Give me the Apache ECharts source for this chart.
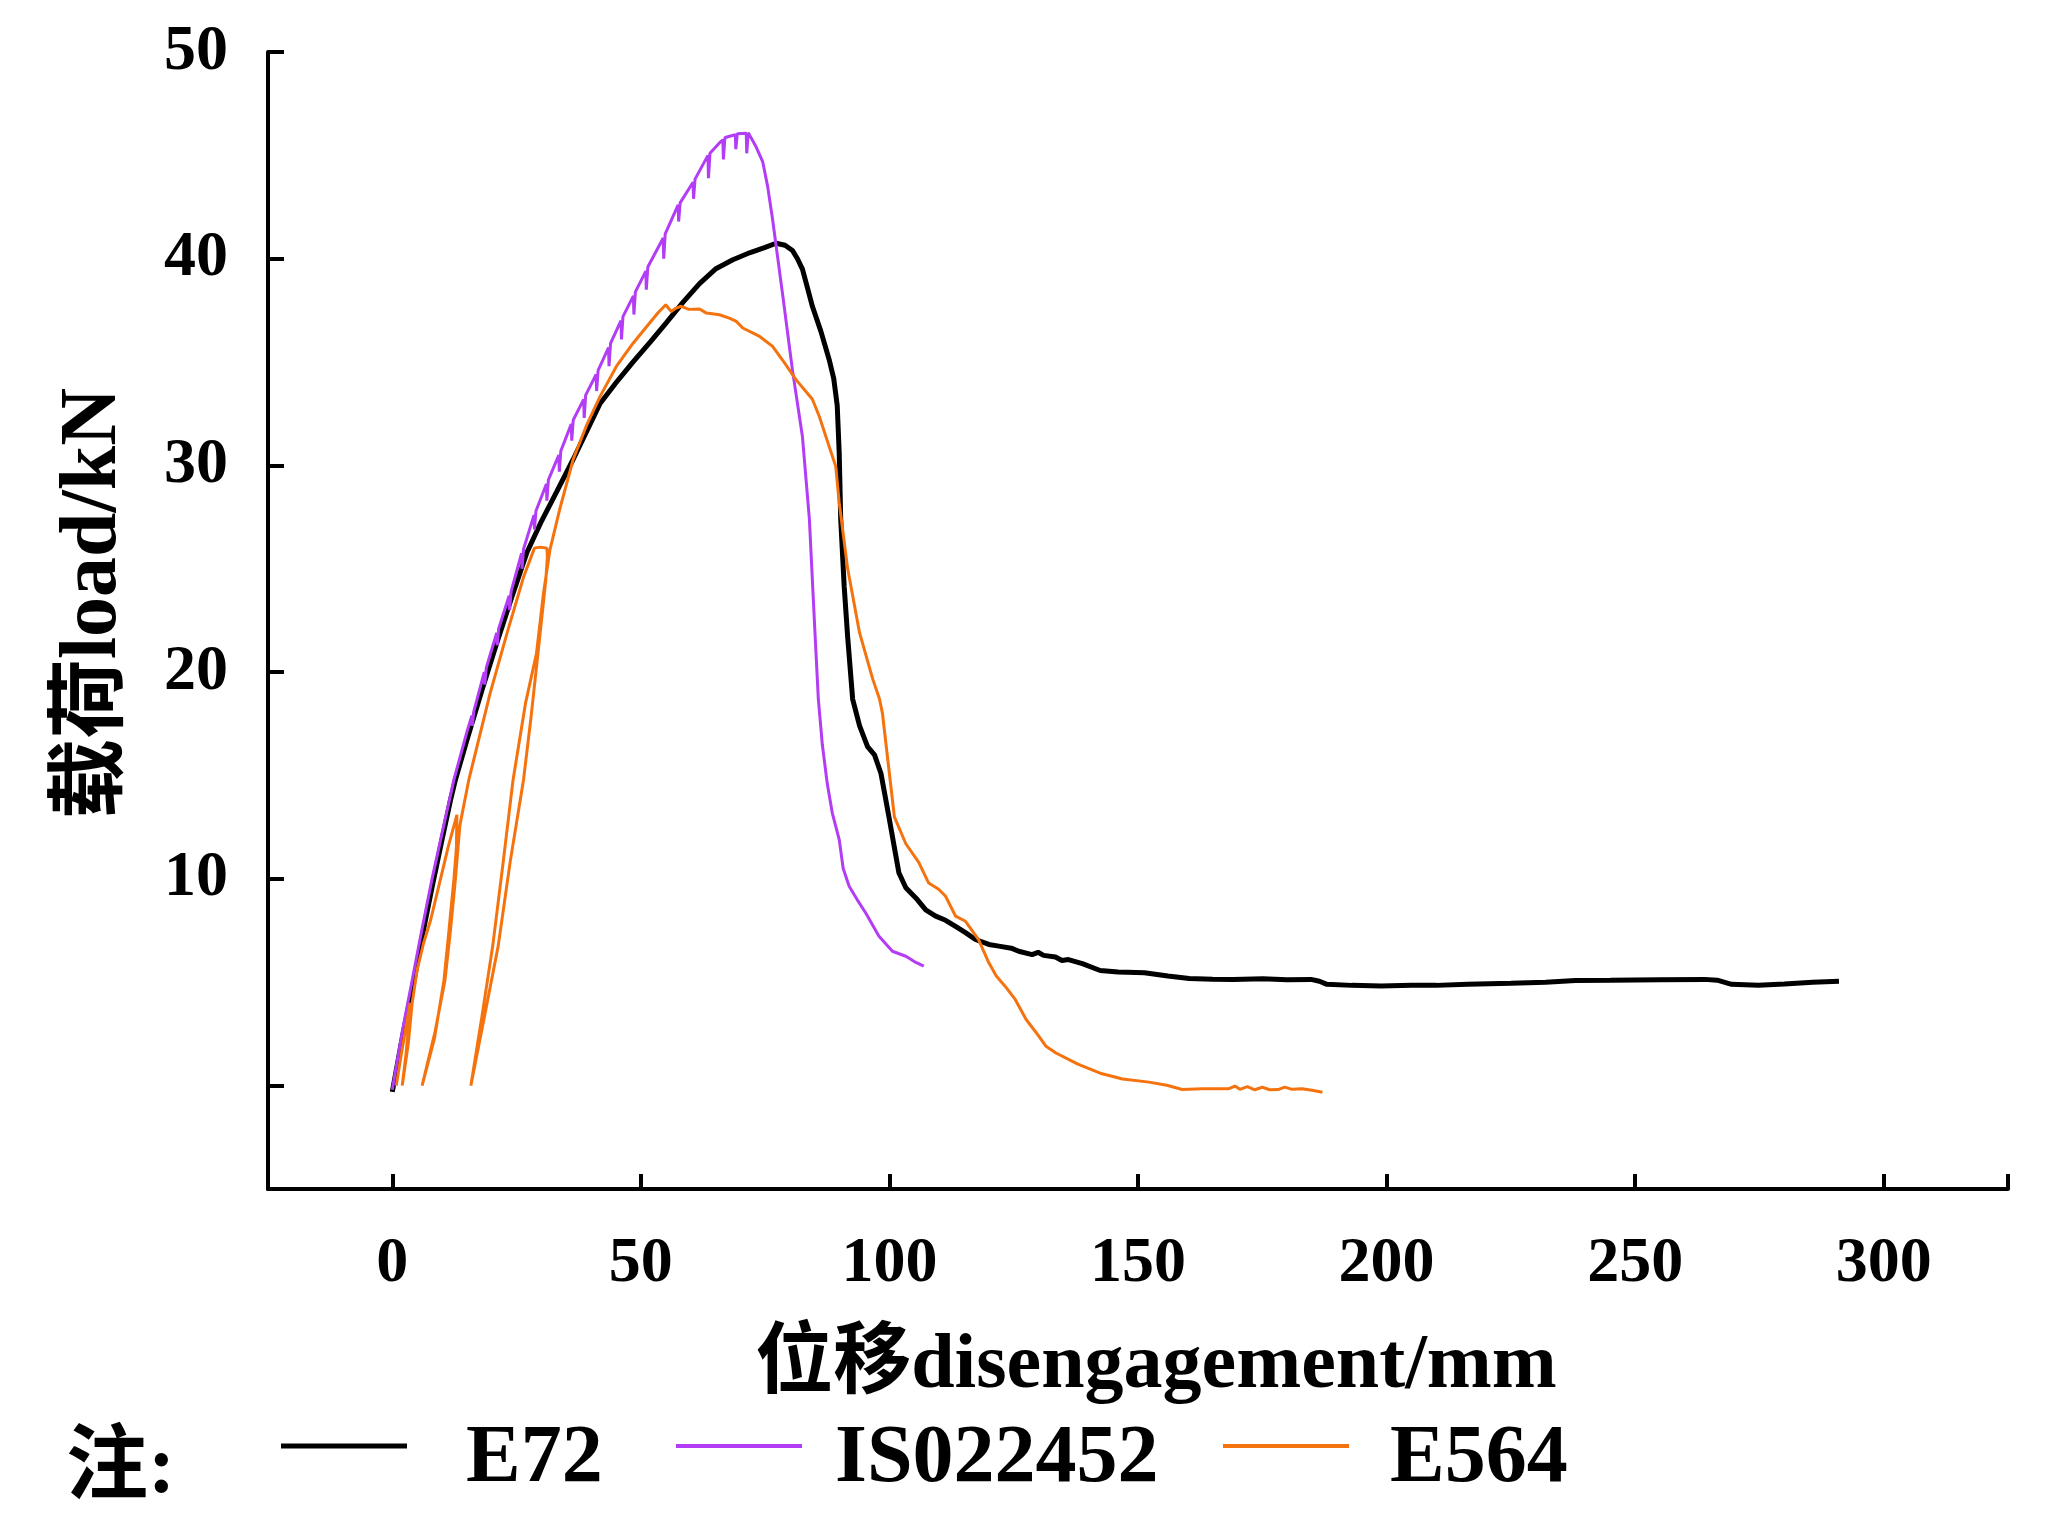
<!DOCTYPE html>
<html>
<head>
<meta charset="utf-8">
<script src="https://cdn.jsdelivr.net/npm/echarts@6/dist/echarts.min.js"></script>
<style>
html,body{margin:0;padding:0;background:#fff;}
#chart{width:2047px;height:1521px;}
</style>
</head>
<body>
<div id="chart"></div>
<script>
// ---- data (displacement mm, load kN) ----
const seriesNames = ['E72', 'IS022452', 'E564'];
const xTickValues = [0, 50, 100, 150, 200, 250, 300, 325];
const xLabelValues = [0, 50, 100, 150, 200, 250, 300];
const yTickValues = [0, 10, 20, 30, 40, 50];
const yLabelValues = [10, 20, 30, 40, 50];

const e72 = [
[0,-0.3],[1,1.0],[2,2.3],[3,3.5],[4.3,5.0],[6,7.2],[8,9.6],[10,11.9],[11.7,13.8],[12.7,14.8],[15,16.7],[18,19.1],[21,21.4],[24,23.6],[27.1,25.8],[30,27.3],[33,28.7],[36.4,30.3],[39,31.6],[41.8,33.0],[45,34.0],[48.4,35.0],[52,36.0],[55.1,36.9],[58.5,37.9],[61.8,38.8],[65,39.5],[68.5,39.95],[72,40.3],[75,40.55],[77.2,40.75],[79,40.65],[80.5,40.4],[81.5,40.0],[82.5,39.5],[83.5,38.6],[84.5,37.7],[86.2,36.5],[87.9,35.1],[88.8,34.2],[89.5,32.9],[89.9,30.6],[90.2,27.4],[90.9,24.15],[91.6,21.7],[92.6,18.7],[94.0,17.4],[95.6,16.4],[97.0,16.0],[98.3,15.1],[99.9,13.0],[101.9,10.3],[103.3,9.57],[105.6,9.0],[107.3,8.5],[109.3,8.2],[111.3,8.0],[113.3,7.7],[115.3,7.4],[117.3,7.07],[120,6.83],[122,6.75],[124.5,6.65],[126,6.5],[128.7,6.34],[129.9,6.45],[131,6.3],[133.4,6.22],[134.7,6.05],[136,6.1],[138.8,5.9],[142.4,5.57],[146,5.5],[151.3,5.46],[156,5.3],[160.3,5.18],[165,5.15],[169.2,5.14],[175.1,5.17],[180,5.12],[184.8,5.14],[186.5,5.05],[188.0,4.9],[193,4.85],[198.9,4.82],[205,4.86],[210,4.85],[216.3,4.9],[225,4.95],[232,5.0],[238,5.09],[245,5.1],[255,5.12],[264,5.14],[266.5,5.1],[269.4,4.9],[274.8,4.86],[280,4.92],[285.7,5.0],[291.0,5.05]
];

const iso22452 = [
[0,-0.2],[1,1.2],[2,2.6],[4,5.1],[6,7.6],[8,10.0],[10,12.2],[12.4,14.8],[15,17.1],
[16,17.9],[16.1,17.4],[16.4,18.1],
[18.5,20.0],[18.6,19.4],[18.9,20.2],
[21,21.9],[21.1,21.3],[21.4,22.1],
[23.5,23.7],[23.6,23.0],[23.9,23.9],
[26,25.75],[26.1,25.0],[26.4,25.95],
[28.5,27.6],[28.6,26.9],[28.9,27.8],
[31,29.1],[31.1,28.3],[31.4,29.3],
[33.5,30.5],[33.6,29.7],[33.9,30.7],
[36,32.0],[36.1,31.2],[36.4,32.2],
[38.5,33.2],[38.6,32.3],[38.9,33.4],
[41,34.4],[41.1,33.6],[41.4,34.6],
[43.5,35.7],[43.6,34.8],[43.9,35.9],
[46,37.0],[46.1,36.1],[46.4,37.2],
[48.5,38.2],[48.6,37.3],[48.9,38.4],
[51,39.4],[51.1,38.5],[51.4,39.6],
[54.5,41.0],[54.6,40.0],[54.9,41.2],
[57.5,42.6],[57.6,41.8],[57.9,42.7],
[60.5,43.7],[60.6,42.9],[60.9,43.85],
[63.5,45.0],[63.6,43.9],[63.9,45.1],
[65.8,45.6],[66.5,45.75],[66.6,44.8],[66.9,45.85],
[67.5,45.9],[69,46.0],[69.1,45.3],[69.4,46.05],[69.8,46.07],
[71.2,46.07],[71.3,45.1],[71.6,46.1],[71.8,46.07],
[73.2,45.4],[74.5,44.7],[75.5,43.5],[76.5,41.9],[78.5,38.3],[80.5,34.6],[82.5,31.4],[83.9,27.4],[84.9,22.5],[85.7,18.7],[86.5,16.5],[87.5,14.6],[88.5,13.2],[89.9,11.9],[90.7,10.5],[91.9,9.65],[93.5,9.0],[95.2,8.36],[97.9,7.23],[100.6,6.5],[103.3,6.26],[105,6.0],[106.9,5.78]
];

const e564 = [
[0.8,0],[1.8,1.5],[2.8,2.9],[3.6,4.0],[3.4,3.2],[2.8,1.6],[2.0,0],[2.3,0],[3.2,2.0],[4.0,4.0],[5.0,5.6],[6.3,6.9],[7.7,8.0],[9.5,9.8],[11.3,11.6],[13.0,13.1],[13.2,13.1],[12.9,11.5],[12.4,10.0],[11.4,7.5],[10.4,5.1],[8.5,2.3],[6.0,0],[6.3,0],[8.6,2.6],[10.6,5.1],[11.7,7.5],[12.7,10.0],[13.6,12.6],[15.4,14.8],[19.7,19.0],[23.1,21.9],[26.4,24.6],[28.6,26.0],[29.8,26.05],[31.1,26.0],[31.2,25.6],[30.9,24.5],[29.3,20.9],[27.9,17.8],[26.4,14.8],[23.7,10.8],[21.3,6.75],[18.5,3.3],[15.8,0],[16.1,0],[18.0,3.3],[20.2,6.75],[22.3,10.8],[24.3,14.8],[26.8,18.5],[29.0,20.9],[30.4,23.8],[31.7,25.9],[33.7,27.9],[36.4,30.3],[39,31.9],[41.8,33.34],[45.1,34.8],[48.4,35.9],[51.8,36.9],[53.5,37.4],[55.0,37.77],[56.1,37.45],[57,37.6],[58.1,37.7],[59.7,37.55],[61.8,37.57],[63.2,37.37],[65.8,37.29],[67.8,37.13],[69.2,36.97],[70.5,36.65],[73.9,36.24],[76.5,35.76],[78.5,35.1],[81.2,34.15],[84.5,33.2],[85.9,32.37],[87.9,30.9],[89.2,29.96],[89.9,28.2],[91.6,25.0],[94.0,21.9],[96.6,19.7],[98.0,18.7],[98.6,18.0],[99.8,15.5],[101.0,13.0],[103.3,11.7],[105.9,10.8],[107.9,9.8],[109.9,9.5],[111.3,9.16],[113.3,8.2],[115.3,7.95],[117.9,7.07],[120.0,5.94],[121.5,5.3],[123.3,4.8],[125.3,4.17],[127.5,3.2],[129.9,2.44],[131.5,1.9],[133.5,1.58],[137.9,1.04],[142.4,0.6],[146.9,0.32],[152.2,0.17],[155.8,0.02],[158.9,-0.19],[163,-0.15],[168.3,-0.15],[169.5,-0.02],[170.5,-0.18],[172,-0.05],[173.5,-0.2],[175,-0.08],[176.5,-0.2],[178.2,-0.19],[179.5,-0.07],[181,-0.18],[183,-0.15],[185,-0.22],[187.1,-0.32]
];

const seriesData = [e72, iso22452, e564];
const seriesColors = ['#000000', '#B33CF5', '#F5730F'];
const seriesWidths = [5, 3, 3];

// ---- chart ----
const FONT = '"Liberation Serif", "Noto Sans CJK SC", serif';
const chart = echarts.init(document.getElementById('chart'), null, {renderer: 'canvas'});

const axisCommon = {
  axisLine: {onZero: false, lineStyle: {color: '#000', width: 4}},
  splitLine: {show: false},
};

// legend swatch: a bar at the top of a taller (otherwise empty) icon box
function swatch(thick, boxH) {
  return 'path://M0,0H126V' + thick + 'H0Z M63,' + boxH + 'L63.01,' + boxH + 'Z';
}

function makeLegend(name, left, thick, padLeft) {
  const boxH = 2 * (14 + thick / 2);
  return {
    left: left, top: 1419, padding: 0, orient: 'horizontal',
    icon: swatch(thick, boxH), itemWidth: 126, itemHeight: boxH,
    textStyle: {fontSize: 82, fontWeight: 'bold', fontFamily: FONT, color: '#000', padding: [0, 0, 0, padLeft]},
    data: [name]
  };
}

const option = {
  backgroundColor: '#ffffff',
  animation: false,
  grid: {left: 268, right: 39, top: 52, bottom: 332, containLabel: false},
  xAxis: {
    type: 'value', min: -25, max: 325,
    ...axisCommon,
    axisTick: {show: true, inside: true, length: 15, lineStyle: {color: '#000', width: 4}, customValues: xTickValues},
    axisLabel: {customValues: xLabelValues, margin: 43, fontSize: 64, fontWeight: 'bold', fontFamily: FONT, color: '#000'},
    name: '位移disengagement/mm', nameLocation: 'middle', nameGap: 139,
    nameTextStyle: {fontSize: 78, fontWeight: 'bold', fontFamily: FONT, color: '#000', padding: [0, 0, 0, 36]}
  },
  yAxis: {
    type: 'value', min: -5, max: 50,
    ...axisCommon,
    axisTick: {show: true, inside: true, length: 16, lineStyle: {color: '#000', width: 4}, customValues: yTickValues},
    axisLabel: {customValues: yLabelValues, margin: 40, fontSize: 64, fontWeight: 'bold', fontFamily: FONT, color: '#000'},
    name: '载荷load/kN', nameLocation: 'middle', nameGap: 134, nameRotate: 90,
    nameTextStyle: {fontSize: 80, fontWeight: 'bold', fontFamily: FONT, color: '#000', padding: [0, 0, 0, 34]}
  },
  legend: [
    makeLegend(seriesNames[0], 281, 5, 54),
    makeLegend(seriesNames[1], 676, 4, 28),
    makeLegend(seriesNames[2], 1223, 4, 36)
  ],
  graphic: [{
    type: 'text', left: 66, top: 1430,
    style: {text: '注:', font: 'bold 82px ' + FONT, fill: '#000'}
  }],
  series: seriesNames.map((n, i) => ({
    name: n, type: 'line', data: seriesData[i],
    symbol: 'none', showSymbol: false, smooth: false, clip: false,
    color: seriesColors[i],
    lineStyle: {color: seriesColors[i], width: seriesWidths[i]},
    z: 2 + i
  }))
};
chart.setOption(option);
</script>
</body>
</html>
